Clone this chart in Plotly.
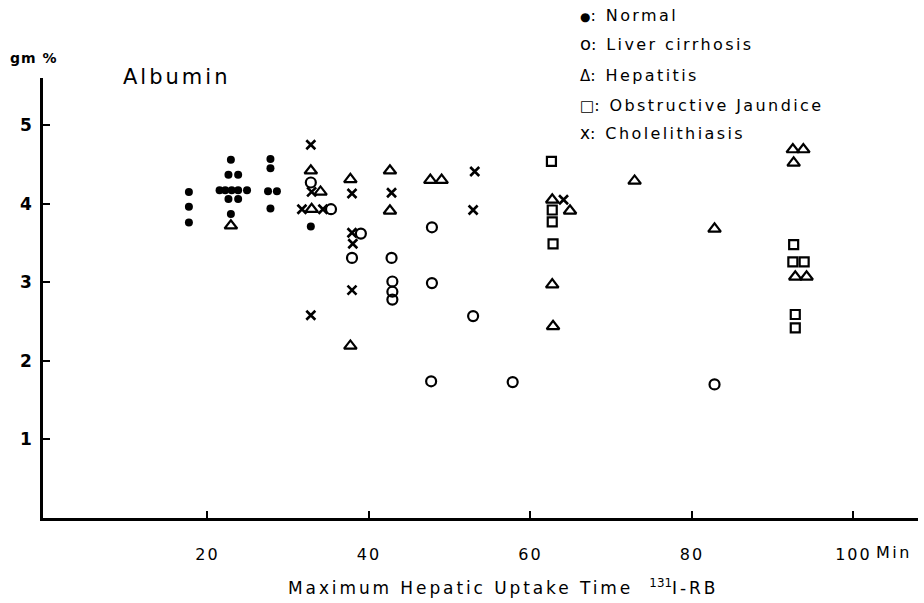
import plotly.graph_objects as go

# ---- data ----
normal_x = [17.7, 17.7, 17.7, 22.9, 22.6, 23.8, 21.5, 22.2, 23.0, 23.8, 24.9, 22.6, 23.8, 22.9,
            27.8, 27.8, 27.5, 28.6, 27.8, 32.8]
normal_y = [4.15, 3.96, 3.76, 4.56, 4.37, 4.37, 4.17, 4.17, 4.17, 4.17, 4.17, 4.06, 4.06, 3.87,
            4.57, 4.45, 4.16, 4.16, 3.94, 3.71]

cirrhosis_x = [32.8, 35.3, 39.0, 37.9, 42.8, 42.9, 42.9, 42.9, 47.8, 47.8, 52.9, 47.7, 57.8, 82.8]
cirrhosis_y = [4.27, 3.93, 3.62, 3.31, 3.31, 3.01, 2.88, 2.78, 3.70, 2.99, 2.57, 1.74, 1.73, 1.70]

hepatitis_x = [22.9, 32.8, 34.0, 32.9, 37.7, 42.6, 42.6, 37.7, 47.6, 49.0, 62.7, 64.9, 62.7, 62.8,
               72.9, 82.8, 92.5, 93.8, 92.6, 92.8, 94.2]
hepatitis_y = [3.72, 4.42, 4.15, 3.93, 4.31, 4.42, 3.91, 2.19, 4.30, 4.30, 4.05, 3.91, 2.97, 2.44,
               4.29, 3.68, 4.69, 4.69, 4.52, 3.07, 3.07]

jaundice_x = [62.6, 62.7, 62.7, 62.8, 92.6, 92.5, 93.9, 92.8, 92.8]
jaundice_y = [4.54, 3.92, 3.77, 3.49, 3.48, 3.26, 3.26, 2.59, 2.42]

chole_x = [32.8, 32.9, 31.7, 34.3, 37.9, 37.9, 38.0, 42.8, 37.9, 32.8, 53.1, 52.9, 64.1]
chole_y = [4.75, 4.15, 3.93, 3.93, 4.13, 3.63, 3.49, 4.14, 2.90, 2.58, 4.41, 3.92, 4.05]

x_ticks = [20, 40, 60, 80, 100]
x_tick_labels = ["20", "40", "60", "80", "100"]
y_ticks = [1, 2, 3, 4, 5]
y_tick_labels = ["1", "2", "3", "4", "5"]

legend_symbols = ["●", "o", "Δ", "□", "x"]
legend_names = ["Normal", "Liver cirrhosis", "Hepatitis", "Obstructive Jaundice", "Cholelithiasis"]

FONT = "DejaVu Sans"
INK = "black"


def spaced(s, ls):
    return '<span style="letter-spacing:%.1fpx">%s</span>' % (ls, s)


fig = go.Figure()


def add(xs, ys, name, symbol, size, lw):
    fig.add_trace(go.Scatter(
        x=xs, y=ys, mode="markers", name=name, showlegend=False,
        marker=dict(symbol=symbol, size=size, color=INK,
                    line=dict(color=INK, width=lw)),
        hovertemplate=name + ": %{x}, %{y}<extra></extra>"))


add(normal_x, normal_y, "Normal", "circle", 8, 0)
add(cirrhosis_x, cirrhosis_y, "Liver cirrhosis", "circle-open", 10, 2.2)
add(hepatitis_x, hepatitis_y, "Hepatitis", "triangle-up-open", 11, 2.2)
add(jaundice_x, jaundice_y, "Obstructive Jaundice", "square-open", 9, 2.2)
add(chole_x, chole_y, "Cholelithiasis", "x-thin-open", 9, 2.6)

fig.update_layout(
    width=924, height=603,
    margin=dict(l=43, r=6, t=78, b=85),
    paper_bgcolor="white", plot_bgcolor="white",
    font=dict(family=FONT, color=INK),
    xaxis=dict(range=[-0.37, 108], showgrid=False, zeroline=False,
               showline=True, linecolor=INK, linewidth=2.5,
               ticks="inside", ticklen=7, tickwidth=2, tickcolor=INK,
               tickvals=x_ticks, ticktext=[spaced(t, 2) for t in x_tick_labels],
               tickfont=dict(size=16, family=FONT, color=INK),
               ticklabelstandoff=20),
    yaxis=dict(range=[0, 5.6], showgrid=False, zeroline=False,
               showline=True, linecolor=INK, linewidth=2.5,
               ticks="inside", ticklen=7, tickwidth=2, tickcolor=INK,
               tickvals=y_ticks, ticktext=["<b>%s</b>" % t for t in y_tick_labels],
               tickfont=dict(size=17, family=FONT, color=INK),
               ticklabelstandoff=5),
)

ann = []


def px2paper(px, py):
    return (px - 43) / 875.0, (518 - py) / 440.0


x0, y0 = px2paper(8, 58)
ann.append(dict(text="<b>" + spaced("gm %", 1) + "</b>", x=x0, y=y0,
                xanchor="left", yanchor="middle", font=dict(size=14)))
x0, y0 = px2paper(121, 77)
ann.append(dict(text=spaced("Albumin", 3), x=x0, y=y0, xanchor="left", yanchor="middle",
                font=dict(size=21)))
sym_sizes = [12, 18, 15, 15, 17]
for sym, name, ss, py in zip(legend_symbols, legend_names, sym_sizes, [15, 44, 75, 105, 133]):
    x0, y0 = px2paper(578, py)
    txt = ('<span style="font-size:%dpx">%s</span>' % (ss, sym)) + spaced(": " + name, 2.4)
    ann.append(dict(text=txt, x=x0, y=y0, xanchor="left", yanchor="middle",
                    font=dict(size=16)))
x0, y0 = px2paper(874, 552)
ann.append(dict(text=spaced("Min", 2.5), x=x0, y=y0, xanchor="left", yanchor="middle",
                font=dict(size=16)))
x0, y0 = px2paper(503, 587)
ann.append(dict(text=spaced("Maximum Hepatic Uptake Time", 2.9) + "   <sup>131</sup>" + spaced("I-RB", 2.9),
                x=x0, y=y0, xanchor="center", yanchor="middle", font=dict(size=17)))
for a in ann:
    a.update(xref="paper", yref="paper", showarrow=False)
fig.update_layout(annotations=ann)

fig.write_html("out.html")
